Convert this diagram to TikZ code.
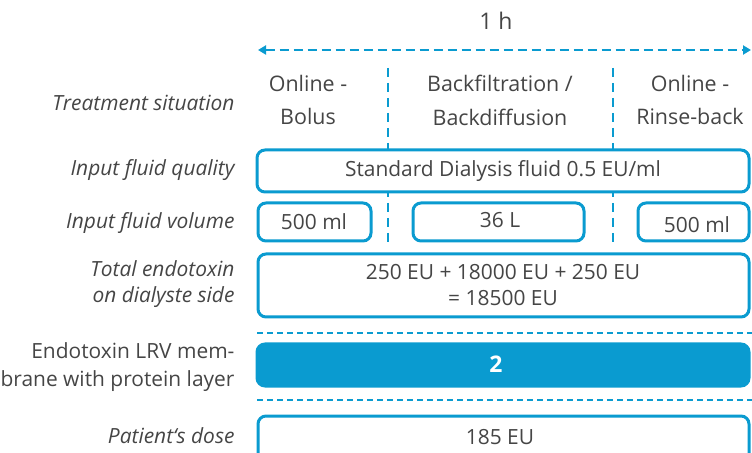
\documentclass[tikz,border=0pt]{standalone}
\usepackage{fontspec}
\setmainfont{Open Sans}
\usetikzlibrary{arrows.meta}
\definecolor{bl}{HTML}{0A9BD0}
\definecolor{tx}{HTML}{454545}
\tikzset{
  x=1bp,y=-1bp,
  every node/.style={text=tx,font=\fontsize{21}{26}\selectfont},
  lab/.style={anchor=east,align=right,font=\fontsize{21}{26}\selectfont\itshape},
  box/.style={draw=bl,line width=3bp,rounded corners=8bp,inner sep=0pt},
  sep/.style={draw=bl,line width=2bp,dash pattern=on 6bp off 4bp},
  vsep/.style={draw=bl,line width=2.5bp,dash pattern=on 9bp off 6bp},
}
\begin{document}
\begin{tikzpicture}
\useasboundingbox (0,0) rectangle (752,453);
% time arrow
\coordinate (al) at (258,50);
\coordinate (ar) at (751,50);
\node[font=\fontsize{23}{28}\selectfont] (h) at (496,21) {1 h};
\draw[bl,line width=2.5bp,dash pattern=on 9bp off 5bp,{Triangle[length=8bp,width=9bp]}-{Triangle[length=8bp,width=9bp]}] (al) -- (ar);
% vertical separators
\draw[vsep] (388,68) -- (388,244);
\draw[vsep] (613,68) -- (613,244);
% treatment situation
\node[align=center,font=\fontsize{21.5}{34}\selectfont] (s1) at (308,100) {Online -\\Bolus};
\node[align=center,font=\fontsize{21.5}{34}\selectfont] (s2) at (500,100) {Backfiltration /\\Backdiffusion};
\node[align=center,font=\fontsize{21.5}{34}\selectfont] (s3) at (690,100) {Online -\\Rinse-back};
% boxes
\draw[box,fill=white] (257,150) rectangle (749,192);
\node (q) at (503,171) {Standard Dialysis fluid 0.5 EU/ml};
\draw[box,fill=white] (258,203) rectangle (371,241);
\node (v1) at (314,222) {500 ml};
\draw[box,fill=white] (413,203) rectangle (584,241);
\node (v2) at (500,220) {36 L};
\draw[box,fill=white] (638,203) rectangle (749,241);
\node (v3) at (697,225) {500 ml};
\draw[box,fill=white] (258,254) rectangle (749,317);
\node[align=center] (t) at (503,285) {250 EU + 18000 EU + 250 EU\\= 18500 EU};
\draw[sep] (257,333) -- (752,333);
\draw[box,fill=bl] (257,344) rectangle (749,386);
\node[text=white,font=\fontsize{23}{26}\selectfont\bfseries] (lrv) at (496,364) {2};
\draw[sep] (257,400) -- (752,400);
\draw[box,fill=white] (258,416) rectangle (749,470);
\node (d) at (500,437) {185 EU};
% left labels
\node[lab] (l1) at (238,103) {Treatment situation};
\node[lab] (l2) at (238,170) {Input fluid quality};
\node[lab] (l3) at (238,223) {Input fluid volume};
\node[lab] (l4) at (238,284) {Total endotoxin\\on dialyste side};
\node[lab,font=\fontsize{21}{28}\selectfont] (l5) at (238,367) {Endotoxin LRV mem-\\brane with protein layer};
\node[lab] (l6) at (238,436) {Patient‘s dose};
\end{tikzpicture}
\end{document}
